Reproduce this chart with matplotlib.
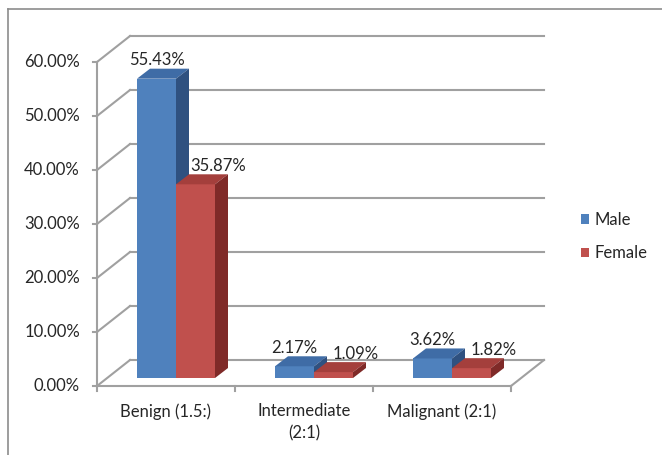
import matplotlib

matplotlib.use("Agg")
import matplotlib.pyplot as plt
from matplotlib.lines import Line2D
from matplotlib.patches import Patch, Polygon, Rectangle

categories = ["Benign (1.5:)", "Intermediate\n(2:1)", "Malignant (2:1)"]
male = [55.43, 2.17, 3.62]
female = [35.87, 1.09, 1.82]
yticks = [0, 10, 20, 30, 40, 50, 60]

MALE_FRONT, MALE_TOP, MALE_SIDE = "#4f81bd", "#3f6ca6", "#2f5180"
FEMALE_FRONT, FEMALE_TOP, FEMALE_SIDE = "#c0504d", "#a43f3c", "#7f2a28"
GRID = "#a0a0a0"
TEXT = "#262626"

plt.rcParams["font.family"] = ["Lato", "DejaVu Sans"]
FS = 12

W, H = 662, 455
fig = plt.figure(figsize=(W / 100, H / 100), dpi=100)
fig.patch.set_facecolor("white")

# plot area = front plane of the 3-D box, in pixels
left, bottom, width, height = 97, H - 386, 414, 324
ax = fig.add_axes([left / W, bottom / H, width / W, height / H])
ax.set_xlim(0, 3)
ax.set_ylim(0, 60)
ax.axis("off")

# pixel -> data unit factors
sx = 3 / width
sy = 60 / height
wall_dx, wall_dy = 33 * sx, 26 * sy      # depth of floor / side wall
bar_dx, bar_dy = 13 * sx, 10 * sy        # depth of a single bar
front_dx, front_dy = 10 * sx, 8 * sy     # bars sit a bit behind the front plane
bar_w = 39 * sx

# back wall + side wall gridlines
for y in yticks:
    ax.plot([0, wall_dx], [y, y + wall_dy], color=GRID, lw=1.5, clip_on=False, zorder=1)
    ax.plot([wall_dx, 3 + wall_dx], [y + wall_dy, y + wall_dy], color=GRID, lw=1.5,
            clip_on=False, zorder=1)
    ax.plot([-4 * sx, 0], [y, y], color=GRID, lw=1.5, clip_on=False, zorder=1)
    ax.text(-17 * sx, y, f"{y:.2f}%", ha="right", va="center", fontsize=FS, color=TEXT)

# front vertical axis and floor
ax.plot([0, 0], [0, 60], color=GRID, lw=1.5, clip_on=False, zorder=1)
ax.plot([0, 3], [0, 0], color=GRID, lw=1.5, clip_on=False, zorder=1)
ax.plot([3, 3 + wall_dx], [0, wall_dy], color=GRID, lw=1.5, clip_on=False, zorder=1)
for x in range(4):
    ax.plot([x, x], [0, -5 * sy], color=GRID, lw=1.5, clip_on=False, zorder=1)

for i, cat in enumerate(categories):
    ax.text(i + 0.5, -17 * sy, cat, ha="center", va="top", fontsize=FS, color=TEXT,
            linespacing=1.45)


def draw_bar(x0, value, front, top, side):
    y0 = front_dy
    y1 = front_dy + value
    ax.add_patch(Rectangle((x0, y0), bar_w, value, facecolor=front, edgecolor="none",
                           clip_on=False, zorder=3))
    ax.add_patch(Polygon([(x0, y1), (x0 + bar_w, y1), (x0 + bar_w + bar_dx, y1 + bar_dy),
                          (x0 + bar_dx, y1 + bar_dy)],
                         facecolor=top, edgecolor="none", clip_on=False, zorder=3))
    ax.add_patch(Polygon([(x0 + bar_w, y0), (x0 + bar_w, y1),
                          (x0 + bar_w + bar_dx, y1 + bar_dy), (x0 + bar_w + bar_dx, y0 + bar_dy)],
                         facecolor=side, edgecolor="none", clip_on=False, zorder=3))


for i in range(len(categories)):
    xm = i + 0.5 + front_dx - bar_w
    xf = i + 0.5 + front_dx
    draw_bar(xm, male[i], MALE_FRONT, MALE_TOP, MALE_SIDE)
    draw_bar(xf, female[i], FEMALE_FRONT, FEMALE_TOP, FEMALE_SIDE)
    ax.annotate(f"{male[i]:.2f}%", (xm + bar_w / 2, front_dy + male[i] + bar_dy),
                xytext=(0, 6), textcoords="offset points", ha="center", va="center",
                fontsize=FS, color=TEXT, zorder=4, annotation_clip=False)
    ax.annotate(f"{female[i]:.2f}%", (xf + bar_w / 2, front_dy + female[i] + bar_dy),
                xytext=(16, 6), textcoords="offset points", ha="center", va="center",
                fontsize=FS, color=TEXT, zorder=4, annotation_clip=False)

handles = [Patch(facecolor=MALE_FRONT, label="Male"), Patch(facecolor=FEMALE_FRONT, label="Female")]
fig.legend(handles=handles, loc="upper left", bbox_to_anchor=(566 / W, (H - 197) / H),
           frameon=False, fontsize=FS, handlelength=0.5, handleheight=0.5,
           handletextpad=0.3, labelspacing=1.05, labelcolor=TEXT)

# chart border
fig.add_artist(Line2D([8 / W, 1], [(H - 9) / H] * 2, color="#8c8c8c", lw=1.2))
fig.add_artist(Line2D([8 / W] * 2, [0, (H - 9) / H], color="#8c8c8c", lw=1.2))

fig.savefig("out.png", dpi=100)
